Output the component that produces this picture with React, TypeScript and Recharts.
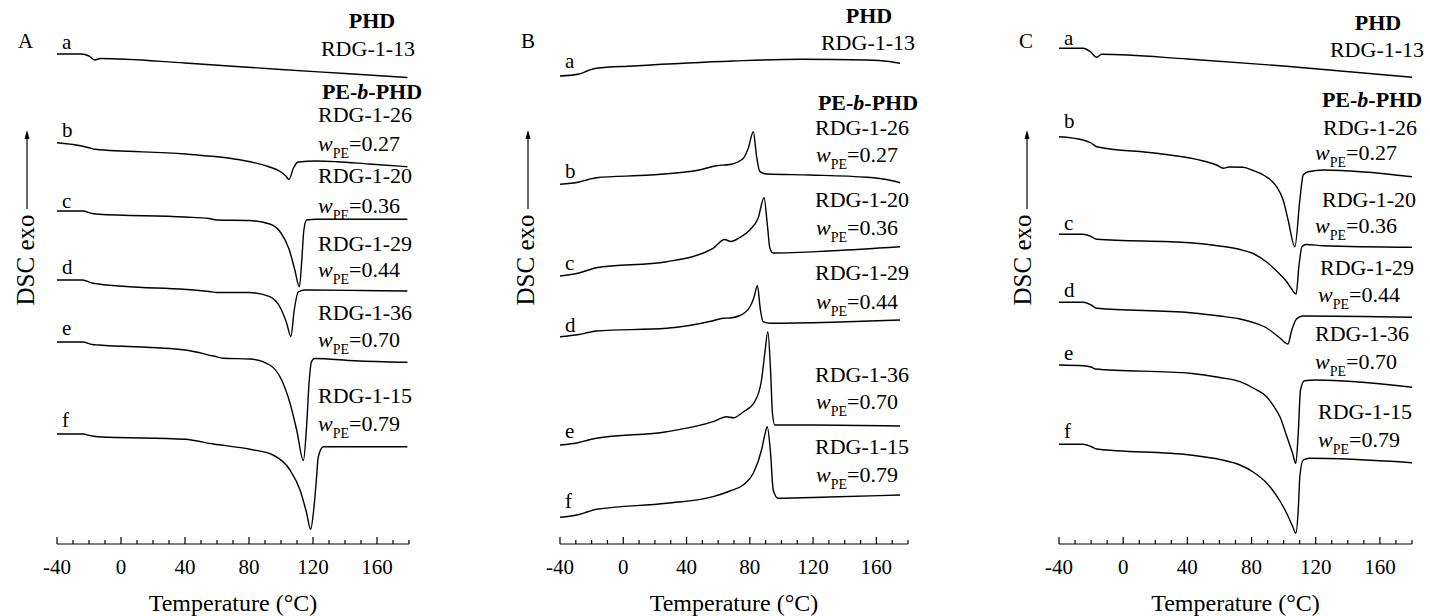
import React from 'react';
import { LineChart, Line, XAxis, YAxis } from 'recharts';

type Pt = [number, number];

// heat flow in a.u. (traces already offset), temperature in °C
// Panel A
const aA: Pt[] = [[-40, 490], [-25, 490], [-20, 488], [-16.5, 484], [-13, 485.5], [40, 481], [100, 474.5], [140, 470.5], [179, 466.5]];
const bA: Pt[] = [[-40, 401.3], [-30, 399.5], [-20, 396.3], [-16, 394.7], [40, 390], [80, 382.5], [92, 377.5], [100, 372], [103, 368], [105, 364.5], [107.7, 375.7], [110.8, 382], [122, 383], [135, 382.3], [155, 380], [179, 377.3]];
const cA: Pt[] = [[-40, 333], [-24, 333], [-18, 330.5], [-14, 329.7], [40, 327], [55, 325.5], [60, 324], [80, 323.5], [93, 320], [100, 311], [105, 295], [108.5, 275], [111.5, 257.3], [113, 284], [114.3, 314], [116, 324], [122, 324.7], [179, 324.7]];
const dA: Pt[] = [[-40, 264], [-24, 264], [-18, 261], [-14, 260], [55, 252.5], [60, 251.5], [80, 251.5], [93, 247.3], [100, 235], [103.5, 221], [106.2, 207.5], [108.2, 233], [110.8, 252], [115, 254], [150, 253.5], [179, 253]];
const eA: Pt[] = [[-40, 202], [-24, 202], [-18, 199.5], [-14, 199], [40, 194], [57.7, 188], [64, 185.7], [80.6, 185], [93, 179], [100.4, 164], [105.6, 141], [109.8, 114], [114, 83.5], [116, 118], [117.5, 160], [119, 182], [121, 185.5], [146, 183.3], [179, 181.7]];
const fA: Pt[] = [[-40, 110], [-24, 110], [-18, 108], [-14, 107.3], [40, 104.7], [57.7, 100], [80.6, 94.7], [95, 89], [105.6, 74], [111.9, 54], [116, 31], [118.5, 14.7], [120.5, 35], [122, 62], [123.3, 87], [126.5, 97.3], [150, 97.3], [179, 97.3]];

// Panel B
const aB: Pt[] = [[-40, 468], [-28, 470], [-22, 473.5], [-17, 475.7], [6, 478], [70, 483], [112, 484.7], [154, 484], [168, 482.5], [175, 480.7]];
const bB: Pt[] = [[-40, 359.7], [-28, 362], [-22, 364.5], [-17, 366.3], [17, 369], [48, 374], [59, 378.3], [67.4, 379.5], [75.8, 385.5], [79, 395.7], [82.2, 412.3], [84.3, 387.3], [86.4, 372.3], [90.6, 370], [118, 369], [154, 366.7], [168, 364], [175, 361.3]];
const cB: Pt[] = [[-40, 268], [-28, 271], [-22, 274], [-17, 276.3], [27.4, 282.3], [56.8, 295.7], [64, 304.5], [68, 302.5], [73.7, 306.5], [80, 314], [85.3, 326], [89, 346.3], [91, 320.7], [92.7, 295.7], [94.8, 291], [132.6, 293.3], [175, 297.3]];
const dB: Pt[] = [[-40, 207.3], [-28, 209.5], [-22, 211.5], [-17, 213], [27.4, 215.7], [56.8, 223.3], [63, 225.7], [67.4, 226], [73.7, 228.5], [80, 237], [82.5, 246], [84.8, 258.3], [86.7, 234], [88.4, 222.3], [92.7, 220.7], [132, 221.7], [175, 224]];
const eB: Pt[] = [[-40, 99], [-28, 101.5], [-22, 104], [-17, 105.7], [27.4, 112.3], [56.8, 122.3], [65.3, 127.3], [69.5, 126.3], [75.8, 132], [83, 142], [87.4, 164], [89.5, 191], [91.4, 212.3], [93.1, 174], [94.3, 131], [95.8, 119], [120, 119], [175, 118]];
const fB: Pt[] = [[-40, 26.7], [-28, 29.5], [-22, 32.5], [-17, 34.7], [27.4, 40.7], [56.8, 47.3], [67.4, 53], [75.8, 59], [82.2, 70.7], [87.4, 94], [89.3, 108], [91, 117.3], [93.1, 90.7], [94.8, 54], [97.9, 45.7], [130, 47], [175, 49]];

// Panel C
const aC: Pt[] = [[-40, 495.7], [-25, 495.7], [-20.5, 492.3], [-16.5, 486.7], [-13.4, 489.7], [40, 485], [100, 478], [180, 466.7]];
const bC: Pt[] = [[-40, 407.3], [-25, 404], [-20, 401], [-16.5, 397.3], [20.8, 390.7], [50, 383], [58.2, 379], [62.4, 375.7], [66, 377], [74.8, 376.7], [81, 373.5], [87.3, 369], [95.6, 357.3], [99.7, 344], [102.8, 324], [107, 297.3], [110.1, 344], [112.2, 369], [115.3, 372.3], [125, 374], [180, 367.3]];
const cC: Pt[] = [[-40, 309.7], [-25, 309.7], [-20, 307.5], [-16.5, 304.7], [41.6, 301.3], [60, 298], [72.8, 294.5], [81, 290.5], [89.4, 282], [95.6, 273], [101.8, 262.5], [105, 255], [107.8, 250], [109.5, 277.3], [111.4, 297.3], [114, 299.5], [124.7, 298.3], [180, 296.7]];
const dC: Pt[] = [[-40, 241.7], [-25, 241.7], [-20, 239], [-16.5, 235.7], [41.6, 231.3], [60.3, 228], [72.8, 225], [81, 221.5], [89.4, 216], [97.7, 206], [102.7, 200], [104.9, 213], [108, 225], [112, 228], [180, 226.7]];
const eC: Pt[] = [[-40, 179], [-25, 178.3], [-20, 177], [-17.6, 175], [41.6, 170.7], [60.3, 166.5], [72.8, 162.3], [81, 156], [89.4, 147.3], [93.5, 138.5], [97.7, 127.3], [101.8, 108.5], [105.5, 91], [107.6, 80.7], [109.1, 110.7], [110.5, 154], [113, 163.3], [120, 164], [180, 156.7]];
const fC: Pt[] = [[-40, 99.7], [-25, 99.7], [-20, 97.5], [-16.5, 95], [41.6, 89], [60.3, 84.5], [72.8, 79], [81, 72], [89.4, 61], [93.5, 53], [97.7, 43], [101.8, 31], [105.5, 18], [107.6, 10.7], [109.1, 34], [110.1, 67.3], [112.2, 84], [116, 85.7], [180, 81.3]];

const majorTicks = [-40, 0, 40, 80, 120, 160];
const allTicks = [-40, -30, -20, -10, 0, 10, 20, 30, 40, 50, 60, 70, 80, 90, 100, 110, 120, 130, 140, 150, 160, 170, 180];

const traceLetters = ['a', 'b', 'c', 'd', 'e', 'f'];
const sampleIds = ['RDG-1-26', 'RDG-1-20', 'RDG-1-29', 'RDG-1-36', 'RDG-1-15'];
const wPE = ['0.27', '0.36', '0.44', '0.70', '0.79'];

const FONT = '"Liberation Serif", "Times New Roman", serif';

const toRows = (pts: Pt[]) => pts.map(([t, h]) => ({ t, h }));

function TempTick(props: any) {
  const { x, y, payload } = props;
  const major = majorTicks.includes(payload.value);
  return (
    <g>
      <line x1={x} x2={x} y1={y} y2={y - (major ? 7 : 4)} stroke="#000" strokeWidth={1.2} />
      {major && (
        <text x={x} y={y + 30} textAnchor="middle" fontSize={21} fill="#000" fontFamily={FONT}>
          {payload.value}
        </text>
      )}
    </g>
  );
}

function Panel({ left, width, ml, mr, curves }: { left: number; width: number; ml: number; mr: number; curves: Pt[][] }) {
  return (
    <div style={{ position: 'absolute', left, top: 0 }}>
      <LineChart width={width} height={616} margin={{ top: 30, right: mr, bottom: 0, left: ml }}>
        <XAxis
          type="number"
          dataKey="t"
          domain={[-40, 180]}
          allowDataOverflow
          ticks={allTicks}
          interval={0}
          tickSize={0}
          tickMargin={0}
          tickLine={false}
          tick={TempTick}
          height={72}
          axisLine={{ stroke: '#000', strokeWidth: 1.2 }}
          label={{ value: 'Temperature (°C)', position: 'insideBottom', offset: 5, style: { fontSize: 24, fill: '#000', fontFamily: FONT } }}
        />
        <YAxis type="number" domain={[0, 514]} allowDataOverflow width={0} tick={false} tickLine={false} axisLine={{ stroke: '#000', strokeWidth: 1.2 }} />
        {curves.map((c, i) => (
          <Line key={i} data={toRows(c)} dataKey="h" type="monotone" stroke="#000" strokeWidth={1.4} dot={false} isAnimationActive={false} />
        ))}
      </LineChart>
    </div>
  );
}

function WLabel({ x, y, v }: { x: number; y: number; v: string }) {
  return (
    <text x={x} y={y} fontSize={22}>
      <tspan fontStyle="italic">w</tspan>
      <tspan fontSize={14} dy={7}>PE</tspan>
      <tspan dy={-7}>={v}</tspan>
    </text>
  );
}

function YLabel({ tx, ax, arrowTop }: { tx: number; ax: number; arrowTop: number }) {
  return (
    <g>
      <text transform={`translate(${tx},260) rotate(-90)`} textAnchor="middle" fontSize={25}>DSC exo</text>
      <line x1={ax} x2={ax} y1={arrowTop + 6} y2={209} stroke="#000" strokeWidth={1.2} />
      <polygon points={`${ax},${arrowTop} ${ax - 2.5},${arrowTop + 9} ${ax + 2.5},${arrowTop + 9}`} fill="#000" />
    </g>
  );
}

type PanelText = {
  tag: string; tagX: number;
  yl: { tx: number; ax: number };
  letterX: number; letterY: number[];
  phd: { cx: number; y: number }; r13: { cx: number; y: number }; peb: { cx: number; y: number };
  idX: number[]; idY: number[]; wX: number[]; wY: number[];
};

const texts: PanelText[] = [
  {
    tag: 'A', tagX: 18, yl: { tx: 33.5, ax: 27 },
    letterX: 62, letterY: [49, 137, 208, 274, 335, 427],
    phd: { cx: 372, y: 28 }, r13: { cx: 368, y: 56 }, peb: { cx: 372, y: 99 },
    idX: [318, 318, 318, 318, 318], idY: [122, 183, 251, 320, 403],
    wX: [318, 318, 318, 318, 318], wY: [151, 213, 277, 347, 431],
  },
  {
    tag: 'B', tagX: 521, yl: { tx: 533.5, ax: 528 },
    letterX: 565, letterY: [68, 178, 270, 332, 438, 508],
    phd: { cx: 869, y: 23 }, r13: { cx: 868, y: 50 }, peb: { cx: 868, y: 110 },
    idX: [815, 815, 815, 815, 815], idY: [135, 207, 280, 382, 454],
    wX: [816, 816, 816, 816, 816], wY: [162, 235, 309, 409, 482],
  },
  {
    tag: 'C', tagX: 1019, yl: { tx: 1031, ax: 1027 },
    letterX: 1064, letterY: [45, 128, 230, 297, 360, 438],
    phd: { cx: 1378, y: 30 }, r13: { cx: 1377, y: 57 }, peb: { cx: 1372, y: 107 },
    idX: [1323, 1322, 1320, 1315, 1318], idY: [135, 207, 275, 341, 419],
    wX: [1315, 1315, 1318, 1315, 1318], wY: [160, 233, 302, 369, 447],
  },
];

export default function App() {
  return (
    <div style={{ position: 'absolute', left: 0, top: 0, width: 1430, height: 616, background: '#fff', fontFamily: FONT }}>
      <Panel left={0} width={480} ml={57} mr={71} curves={[aA, bA, cA, dA, eA, fA]} />
      <Panel left={500} width={440} ml={60} mr={32} curves={[aB, bB, cB, dB, eB, fB]} />
      <Panel left={990} width={440} ml={69} mr={18} curves={[aC, bC, cC, dC, eC, fC]} />
      <svg width={1430} height={616} style={{ position: 'absolute', left: 0, top: 0, pointerEvents: 'none' }} fontFamily={FONT} fill="#000">
        {texts.map((p) => (
          <g key={p.tag}>
            <text x={p.tagX} y={48} fontSize={21}>{p.tag}</text>
            <YLabel tx={p.yl.tx} ax={p.yl.ax} arrowTop={130} />
            {traceLetters.map((l, i) => (
              <text key={l} x={p.letterX} y={p.letterY[i]} fontSize={21}>{l}</text>
            ))}
            <text x={p.phd.cx} y={p.phd.y} textAnchor="middle" fontSize={22} fontWeight="bold">PHD</text>
            <text x={p.r13.cx} y={p.r13.y} textAnchor="middle" fontSize={22}>RDG-1-13</text>
            <text x={p.peb.cx} y={p.peb.y} textAnchor="middle" fontSize={22} fontWeight="bold">
              PE-<tspan fontStyle="italic">b</tspan>-PHD
            </text>
            {sampleIds.map((s, i) => (
              <g key={s}>
                <text x={p.idX[i]} y={p.idY[i]} fontSize={22}>{s}</text>
                <WLabel x={p.wX[i]} y={p.wY[i]} v={wPE[i]} />
              </g>
            ))}
          </g>
        ))}
      </svg>
    </div>
  );
}
